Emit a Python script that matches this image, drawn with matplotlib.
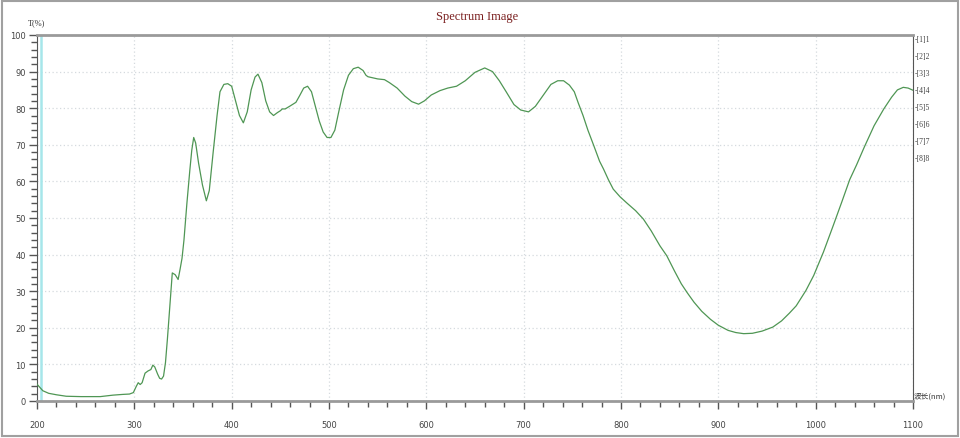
import matplotlib
matplotlib.use("Agg")
from matplotlib import pyplot as plt
from matplotlib.patches import Rectangle
from matplotlib.ticker import MultipleLocator

# spectrum: wavelength (nm) and transmittance (%)
wavelength = [200, 206, 212, 220, 230, 245, 265, 278, 288, 295, 299, 302, 304, 306,
              308, 311, 314, 317, 319, 321, 324, 326, 328, 330, 332, 334, 337, 339,
              342, 345, 347, 349, 351, 354, 357, 359, 361, 363, 366, 370, 374, 377,
              381, 385, 388, 392, 396, 400, 404, 408, 412, 416, 420, 424, 427, 431,
              435, 439, 443, 447, 450, 452, 455, 460, 466, 470, 474, 478, 482, 486,
              490, 494, 498, 502, 506, 510, 515, 520, 525, 530, 535, 538, 540, 545,
              550, 557, 562, 570, 578, 585, 592, 598, 605, 614, 622, 631, 640, 650,
              660, 668, 675, 682, 690, 697, 705, 712, 720, 728, 735, 741, 747, 752,
              756, 761, 766, 772, 778, 782, 787, 792, 799, 806, 815, 823, 831, 840,
              847, 855, 862, 868, 875, 883, 892, 900, 910, 918, 926, 935, 945, 956,
              965, 973, 980, 990, 998, 1008, 1018, 1027, 1035, 1042, 1050, 1060,
              1070, 1078, 1084, 1090, 1095, 1100]
transmittance = [4.6, 2.8, 2.1, 1.7, 1.3, 1.2, 1.2, 1.6, 1.8, 1.9, 2.3, 4.0, 5.0, 4.5,
                 5.0, 7.6, 8.2, 8.6, 9.8, 9.3, 7.3, 6.2, 6.0, 6.8, 10.5, 17.0, 28.0, 35.0,
                 34.5, 33.2, 36.0, 39.0, 44.0, 54.0, 63.0, 68.5, 72.0, 70.5, 65.0, 59.0,
                 54.7, 57.5, 68.0, 78.0, 84.5, 86.5, 86.7, 86.0, 82.0, 78.0, 76.0, 79.0,
                 85.0, 88.5, 89.3, 87.0, 82.0, 79.0, 78.0, 78.8, 79.3, 79.8, 79.8, 80.6,
                 81.6, 83.5, 85.5, 86.0, 84.5, 80.5, 76.5, 73.5, 72.0, 72.0, 74.0, 79.0,
                 85.0, 89.0, 90.8, 91.2, 90.3, 89.0, 88.6, 88.3, 88.0, 87.8, 87.0, 85.5,
                 83.3, 81.8, 81.1, 82.0, 83.6, 84.8, 85.5, 86.0, 87.5, 89.8, 91.0, 90.0,
                 87.5, 84.5, 81.0, 79.5, 79.0, 80.5, 83.5, 86.5, 87.5, 87.5, 86.3, 84.5,
                 81.5, 78.0, 74.0, 69.8, 65.5, 63.4, 60.5, 57.9, 55.8, 54.1, 52.0, 49.7,
                 46.5, 42.4, 39.7, 35.5, 32.0, 29.6, 27.0, 24.5, 22.3, 20.7, 19.3, 18.7,
                 18.4, 18.5, 19.1, 20.2, 21.9, 24.0, 26.0, 30.2, 34.3, 40.7, 47.9, 54.5,
                 60.5, 64.5, 69.4, 75.2, 79.8, 83.0, 85.0, 85.7, 85.5, 84.9]

marker_nm = 204
x_ticks = [200, 300, 400, 500, 600, 700, 800, 900, 1000, 1100]
y_ticks = [0, 10, 20, 30, 40, 50, 60, 70, 80, 90, 100]
channel_labels = ["[1]1", "[2]2", "[3]3", "[4]4", "[5]5", "[6]6", "[7]7", "[8]8"]

W, H = 960, 439
fig = plt.figure(figsize=(W / 100, H / 100), dpi=100)
fig.patch.set_facecolor("white")
fig.patches.append(Rectangle((0.002, 0.004), 0.996, 0.992, transform=fig.transFigure,
                             fill=False, edgecolor="#a0a0a0", linewidth=1.5))

ax = fig.add_axes([37 / W, 1 - 402 / H, 876 / W, 366 / H])
ax.set_xlim(200, 1100)
ax.set_ylim(0, 100)

ax.grid(True, which="major", color="#d5dadf", linestyle=(0, (1, 2)), linewidth=0.9)
ax.set_axisbelow(True)

ax.axvline(marker_nm, color="#a6e6ea", linewidth=1.8, zorder=2)
ax.plot(wavelength, transmittance, color="#4f9654", linewidth=0.9, zorder=3)

ax.set_xticks(x_ticks)
ax.set_yticks(y_ticks)
ax.xaxis.set_minor_locator(MultipleLocator(20))
ax.yaxis.set_minor_locator(MultipleLocator(2))
ax.tick_params(axis="both", which="major", direction="out", length=6, width=1,
               color="#555555", labelsize=6, labelcolor="#444444", pad=2)
ax.tick_params(axis="both", which="minor", direction="out", length=4, width=1,
               color="#555555")
ax.tick_params(axis="x", which="major", pad=8)

for side in ["top", "bottom"]:
    ax.spines[side].set_color("#9a9a9a")
    ax.spines[side].set_linewidth(2)
for side in ["left", "right"]:
    ax.spines[side].set_color("#555555")
    ax.spines[side].set_linewidth(0.8)

fig.text(477 / W, 1 - 17 / H, "Spectrum Image", ha="center", va="center",
         fontsize=9, color="#7a1f1f", family="Liberation Serif")
fig.text(28 / W, 1 - 23 / H, "T(%)", ha="left", va="center", fontsize=6,
         color="#333333", family="Liberation Serif")
fig.text(914 / W, 1 - 397 / H, "波长(nm)", ha="left", va="center", fontsize=5.5,
         color="#333333", family=["Noto Sans CJK SC", "DejaVu Sans"])

for i, lab in enumerate(channel_labels):
    yy = 1 - (40 + 17 * i) / H
    fig.text(915 / W, yy, "-" + lab, ha="left", va="center", fontsize=5.5,
             color="#444444", family="Liberation Serif")

fig.savefig("out.png", dpi=100)
